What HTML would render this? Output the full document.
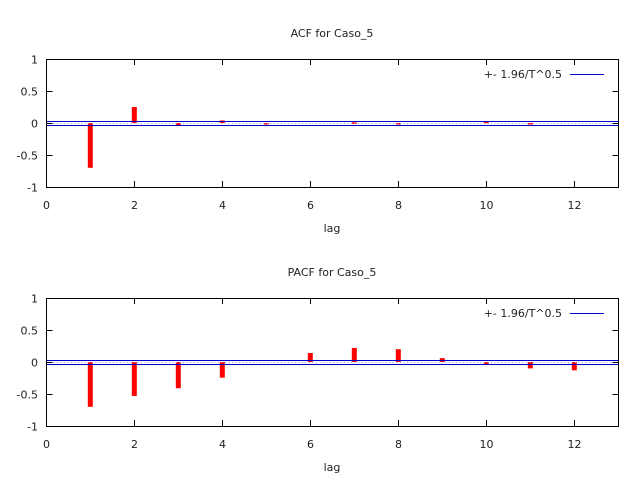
<!DOCTYPE html>
<html><head><meta charset="utf-8"><style>
html,body{margin:0;padding:0;background:#fff;}
svg{display:block;}
text{font-family:"DejaVu Sans","Liberation Sans",sans-serif;font-size:11px;fill:#222;}
</style></head><body>
<svg id="s" width="640" height="480" xmlns="http://www.w3.org/2000/svg"></svg>
<script>
const s=document.getElementById('s');let h='';
function panel(top,title,vals){
  const L=46.5,R=618.5,B=top+128,z=top+64,k=64,px=l=>46.3+44*l;
  h+=`<text x="332" y="${top-22}" text-anchor="middle">${title}</text>`;
  vals.forEach((v,i)=>{if(v===0)return;const x=px(i+1);const y1=Math.min(z,z-v*k),hh=Math.max(1.5,Math.abs(v*k));
    h+=`<rect x="${x-2.5}" y="${y1}" width="5" height="${hh}" fill="#f00"/>`;});
  h+=`<line x1="${L}" x2="${R}" y1="${z+0.5}" y2="${z+0.5}" stroke="#aaa" stroke-dasharray="1,2.5"/>`;
  h+=`<line x1="${L}" x2="${R}" y1="${z-1.5}" y2="${z-1.5}" stroke="#0000cc" stroke-width="1"/>`;
  h+=`<line x1="${L}" x2="${R}" y1="${z+2.5}" y2="${z+2.5}" stroke="#0000cc" stroke-width="1"/>`;
  h+=`<rect x="${L}" y="${top+0.5}" width="${R-L}" height="128" fill="none" stroke="#000" stroke-width="1"/>`;
  [[1,'1'],[0.5,'0.5'],[0,'0'],[-0.5,'-0.5'],[-1,'-1']].forEach(([v,t])=>{const y=Math.round(z-v*k)+0.5;
    h+=`<line x1="${L}" x2="${L+6}" y1="${y}" y2="${y}" stroke="#000"/><line x1="${R}" x2="${R-6}" y1="${y}" y2="${y}" stroke="#000"/>`;
    h+=`<text x="38" y="${y+4}" text-anchor="end">${t}</text>`;});
  for(let l=0;l<=12;l+=2){const x=Math.round(px(l))+0.5;
    h+=`<line x1="${x}" x2="${x}" y1="${B}" y2="${B-6}" stroke="#000"/><line x1="${x}" x2="${x}" y1="${top}" y2="${top+6}" stroke="#000"/>`;
    h+=`<text x="${x}" y="${B+22}" text-anchor="middle">${l}</text>`;}
  h+=`<text x="332" y="${B+45}" text-anchor="middle">lag</text>`;
  h+=`<text x="562" y="${top+19}" text-anchor="end">+- 1.96/T^0.5</text>`;
  h+=`<line x1="570" x2="604" y1="${top+15.5}" y2="${top+15.5}" stroke="#0000cc"/>`;
}
panel(59,'ACF for Caso_5',[-0.70,0.25,-0.04,0.04,-0.01,0,0.01,-0.01,0,0.02,-0.02,0]);
panel(298,'PACF for Caso_5',[-0.70,-0.53,-0.41,-0.245,0,0.14,0.22,0.2,0.06,-0.03,-0.1,-0.13]);
s.innerHTML=h;
</script>
</body></html>
